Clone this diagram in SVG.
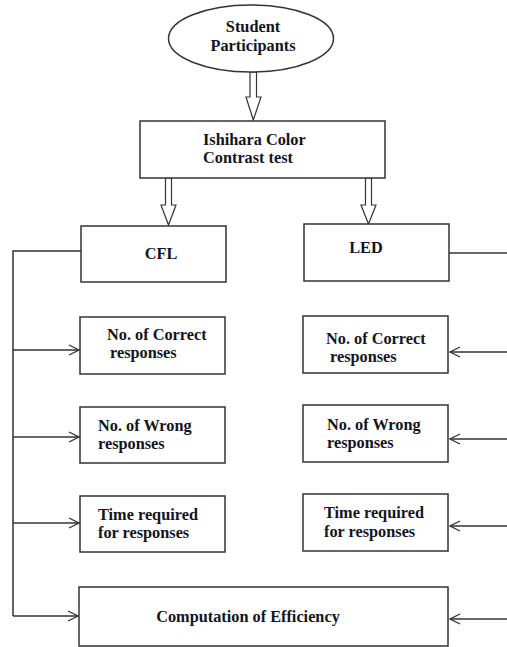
<svg xmlns="http://www.w3.org/2000/svg" width="507" height="647" viewBox="0 0 507 647">
<defs>
<style>
.box{fill:#fff;stroke:#333;stroke-width:1.5}
.t{font-family:"Liberation Serif","Times New Roman",serif;font-weight:bold;font-size:16.3px;fill:#141420}
.ln{fill:none;stroke:#333;stroke-width:1.5}
.blk{fill:#fff;stroke:#333;stroke-width:1.2}
</style>
<marker id="ah" markerWidth="12" markerHeight="12" viewBox="0 0 12 12" refX="11" refY="6" orient="auto" markerUnits="userSpaceOnUse">
<path d="M1,1 L11,6 L1,11" fill="none" stroke="#333" stroke-width="1.3"/>
</marker>
</defs>
<rect width="507" height="647" fill="#fff"/>
<g id="connectors">
<polygon class="blk" points="250,72 256.5,72 256.5,97 261,97 253.3,120 246,97 250,97"/>
<polygon class="blk" points="165.5,178 171.5,178 171.5,205 176,205 168.5,225 161,205 165.5,205"/>
<polygon class="blk" points="365.5,178 371.5,178 371.5,205 376,205 368.5,224 361,205 365.5,205"/>
<polyline class="ln" points="81,251 13,251 13,616"/>
<line class="ln" x1="13" y1="350" x2="79" y2="350" marker-end="url(#ah)"/>
<line class="ln" x1="13" y1="437" x2="79" y2="437" marker-end="url(#ah)"/>
<line class="ln" x1="13" y1="523" x2="79" y2="523" marker-end="url(#ah)"/>
<line class="ln" x1="13" y1="616" x2="78" y2="616" marker-end="url(#ah)"/>
<line class="ln" x1="449" y1="253" x2="507" y2="253"/>
<line class="ln" x1="507" y1="352" x2="450" y2="352" marker-end="url(#ah)"/>
<line class="ln" x1="507" y1="439" x2="450" y2="439" marker-end="url(#ah)"/>
<line class="ln" x1="507" y1="526" x2="450" y2="526" marker-end="url(#ah)"/>
<line class="ln" x1="507" y1="619" x2="450" y2="619" marker-end="url(#ah)"/>
</g>
<g id="student">
<ellipse class="box" cx="251" cy="38.5" rx="82.5" ry="33.5"/>
<text class="t" x="253" y="32" text-anchor="middle">Student</text>
<text class="t" x="253" y="51" text-anchor="middle">Participants</text>
</g>
<g id="ishihara">
<rect class="box" x="140" y="121" width="245" height="57"/>
<text class="t" x="203" y="145">Ishihara Color</text>
<text class="t" x="203" y="163">Contrast test</text>
</g>
<g id="cfl">
<rect class="box" x="81" y="226" width="145" height="56"/>
<text class="t" x="161" y="259" text-anchor="middle">CFL</text>
</g>
<g id="led">
<rect class="box" x="304" y="224" width="145" height="57"/>
<text class="t" x="366" y="253" text-anchor="middle">LED</text>
</g>
<g id="cfl-correct">
<rect class="box" x="80" y="317" width="145" height="57"/>
<text class="t" x="107" y="340">No. of Correct</text>
<text class="t" x="110" y="358">responses</text>
</g>
<g id="led-correct">
<rect class="box" x="303" y="316" width="145" height="57"/>
<text class="t" x="326" y="344">No. of Correct</text>
<text class="t" x="330" y="362">responses</text>
</g>
<g id="cfl-wrong">
<rect class="box" x="80" y="407" width="145" height="56"/>
<text class="t" x="98" y="431">No. of Wrong</text>
<text class="t" x="98" y="449">responses</text>
</g>
<g id="led-wrong">
<rect class="box" x="303" y="405" width="145" height="57"/>
<text class="t" x="327" y="430">No. of Wrong</text>
<text class="t" x="327" y="448">responses</text>
</g>
<g id="cfl-time">
<rect class="box" x="80" y="496" width="145" height="56"/>
<text class="t" x="98" y="520">Time required</text>
<text class="t" x="98" y="538">for responses</text>
</g>
<g id="led-time">
<rect class="box" x="303" y="494" width="145" height="57"/>
<text class="t" x="324" y="518">Time required</text>
<text class="t" x="324" y="537">for responses</text>
</g>
<g id="efficiency">
<rect class="box" x="79" y="587" width="369" height="59"/>
<text class="t" x="248" y="622" text-anchor="middle">Computation of Efficiency</text>
</g>
</svg>
